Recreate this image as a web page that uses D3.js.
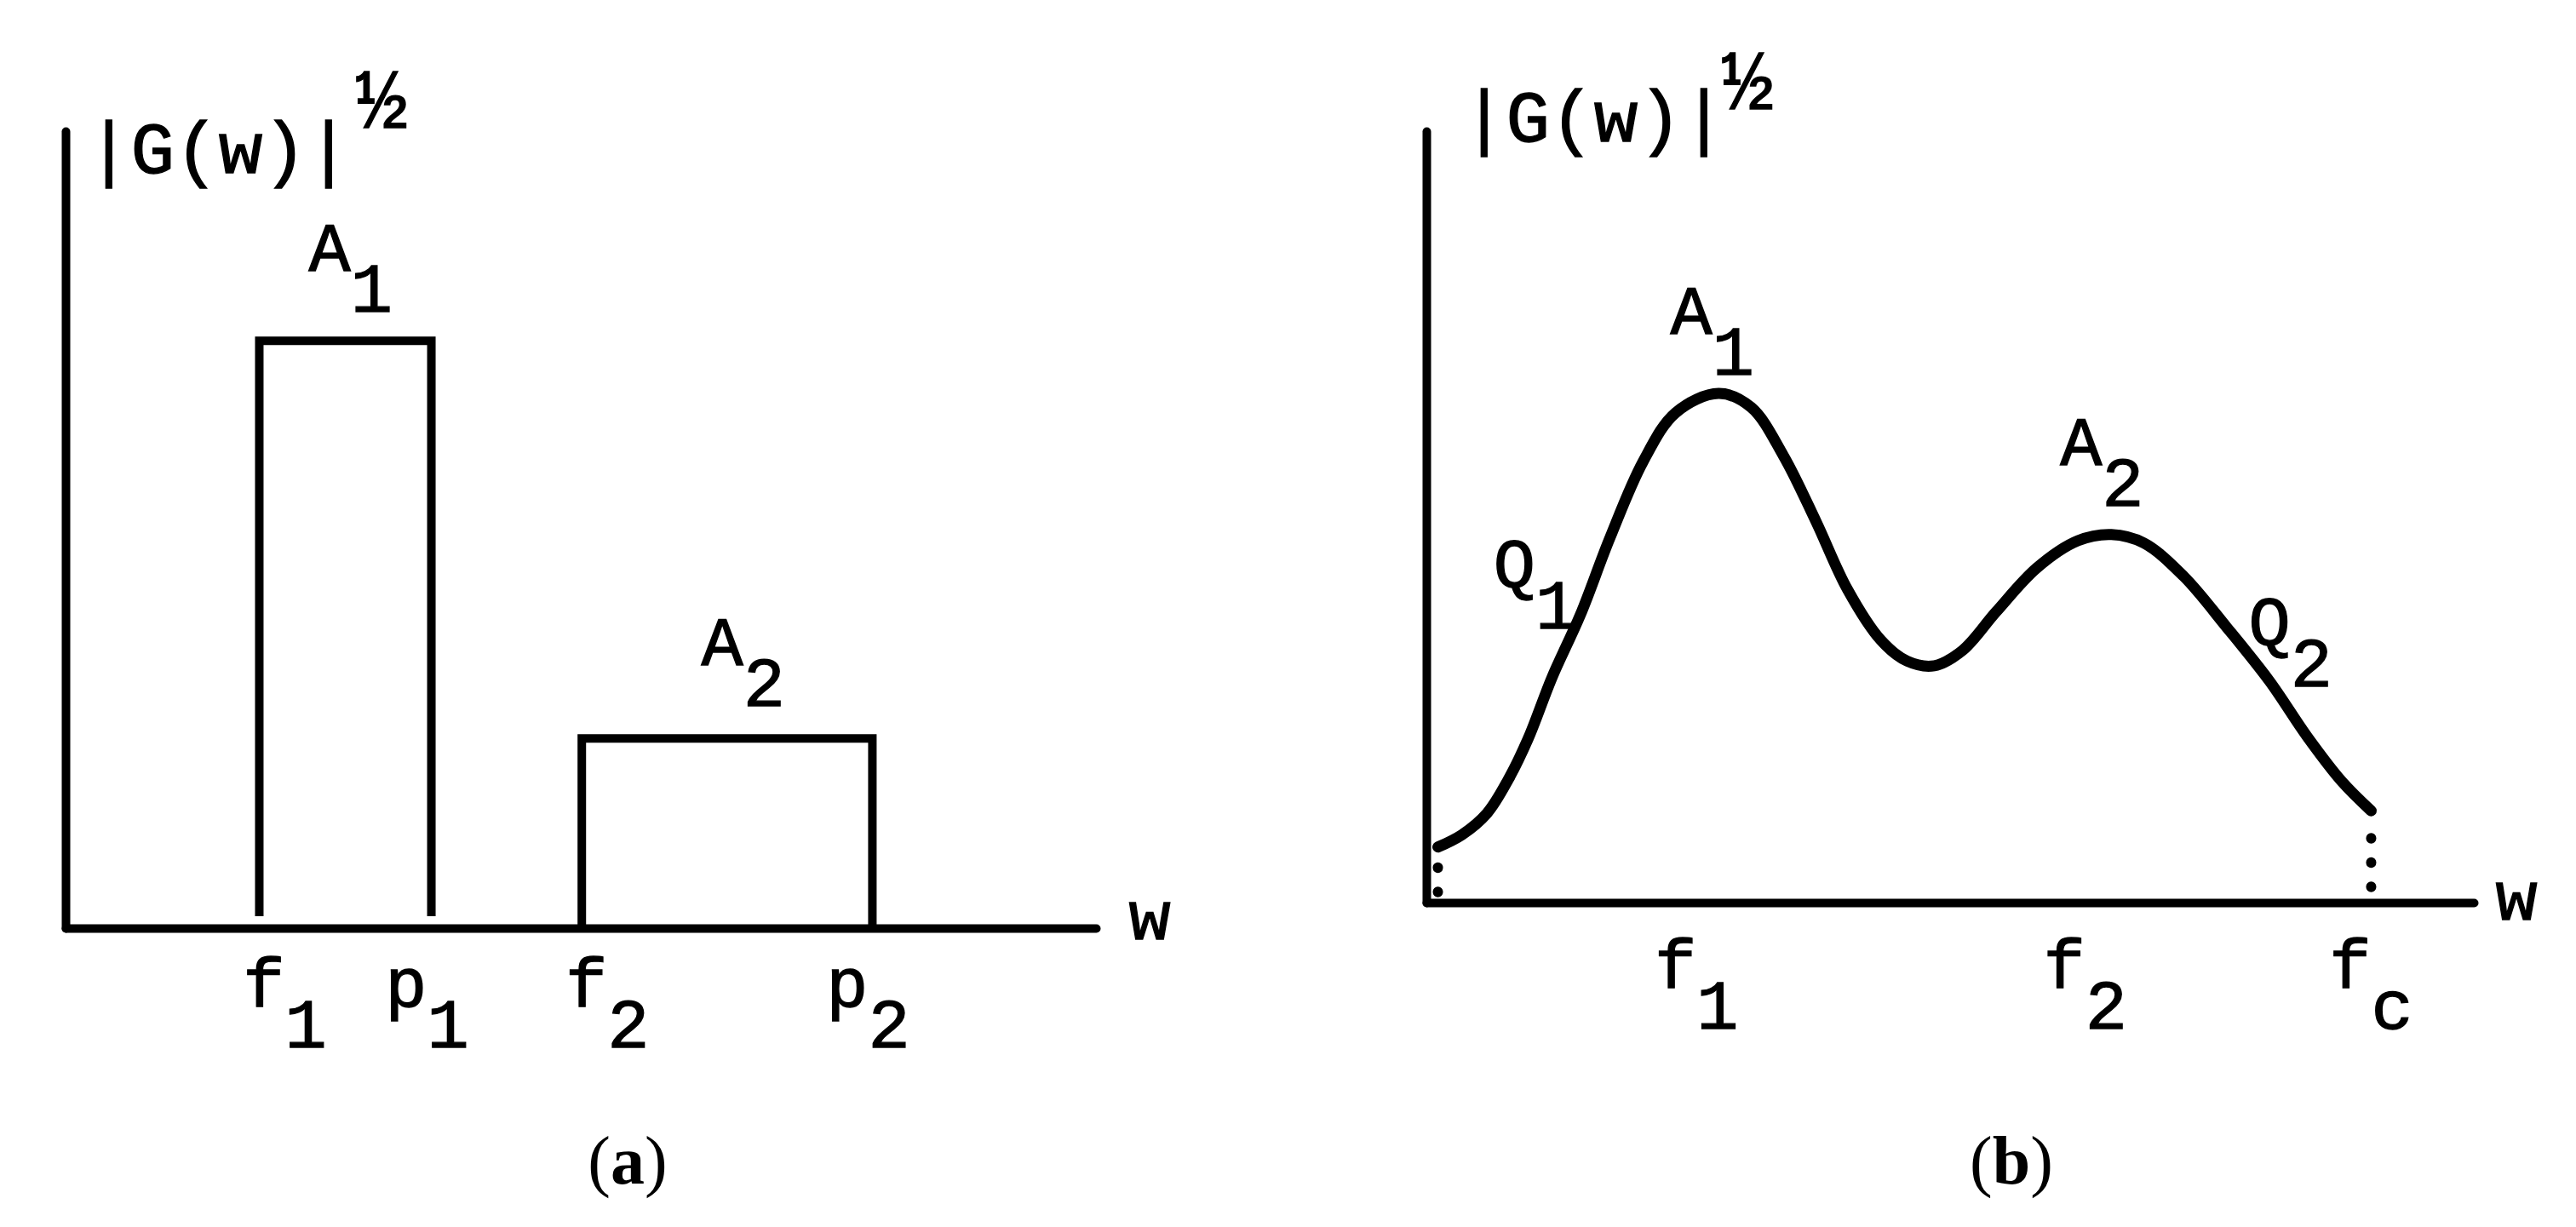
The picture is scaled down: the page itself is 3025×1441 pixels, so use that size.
<!DOCTYPE html>
<html>
<head>
<meta charset="utf-8">
<script src="https://cdn.jsdelivr.net/npm/d3@7"></script>
<style>
  body { margin: 0; background: #fff; }
  svg text { font-family: "Liberation Mono", "DejaVu Sans Mono", monospace; fill: #000; stroke: #000; stroke-width: 1.3px; }
  svg text.caption { font-family: "Liberation Serif", "DejaVu Serif", serif; stroke: none; }
</style>
</head>
<body>
<svg id="chart"></svg>
<script>
// panel (a): two flat bands, w and |G| in arbitrary units (0..100)
const bandIds = ["1", "2"];
const bandStart = [18.8, 50.1]; // f1, f2
const bandEnd = [35.5, 78.3]; // p1, p2
const bandLevel = [73.7, 23.8]; // A1, A2
const bandFoot = [1.5, 0]; // sides of the first band stop just short of the axis

// panel (b): smooth spectrum
const curveW = [1.1, 3.4, 5.8, 7.8, 9.7, 12.0, 14.7, 17.5, 20.7, 23.8, 27.9, 31.0, 34.1, 37.2, 40.2, 43.4,
  45.9, 48.5, 51.2, 54.4, 58.3, 62.2, 65.4, 68.5, 72.3, 76.4, 80.5, 84.1, 87.4, 90.2];
const curveG = [7.2, 8.8, 11.6, 15.9, 21.2, 29.2, 37.3, 47.2, 57.2, 63.5, 66.0, 64.2, 57.9, 49.4, 40.6, 34.0,
  31.3, 30.7, 32.7, 37.7, 43.4, 46.9, 47.7, 46.6, 42.3, 35.7, 28.7, 21.5, 15.7, 11.9];
const curveTickIds = ["1", "2", "c"];
const curveTickW = [25.8, 62.9, 90.2];

// annotations, in data units (w, |G|)
const notesA = [
  { main: "A", sub: "1", w: 23.6, g: 82.5 },
  { main: "A", sub: "2", w: 61.7, g: 33.0 },
];
const notesB = [
  { main: "A", sub: "1", w: 23.3, g: 73.7 },
  { main: "A", sub: "2", w: 60.5, g: 56.7 },
  { main: "Q", sub: "1", w: 6.4, g: 40.8 },
  { main: "Q", sub: "2", w: 78.5, g: 33.3 },
];

class Spectrum {
  static svg;
  static fontSize = 82;
  static subShift = 48;
  static stroke = 10;
  static panelA = { left: 77, right: 1287, top: 154, bottom: 1090, ylab: [102, 203], half: [418, 150], wlab: [1350, 1103], tickY: 1182, caption: 737 };
  static panelB = { left: 1675, right: 2905, top: 154, bottom: 1060, ylab: [1717, 166], half: [2022, 128], wlab: [2955, 1080], tickY: 1160, caption: 2362 };

  static label(g, x, y, main, sub, anchor = "start") {
    let t = g
      .append("text")
      .attr("x", x)
      .attr("y", y)
      .attr("font-size", this.fontSize)
      .attr("text-anchor", anchor);
    t.append("tspan").text(main);
    t.append("tspan").attr("dy", this.subShift).text(sub);
    return t;
  }

  static frame(g, x, y, p, letter) {
    // axes: plain heavy lines, no ticks
    g.append("g")
      .attr("transform", "translate(0," + p.bottom + ")")
      .call(d3.axisBottom(x).tickValues([]).tickSizeOuter(0));
    g.append("g")
      .attr("transform", "translate(" + p.left + ",0)")
      .call(d3.axisLeft(y).tickValues([]).tickSizeOuter(0));
    g.selectAll(".domain")
      .attr("stroke", "#000")
      .attr("stroke-width", this.stroke)
      .attr("stroke-linecap", "round");

    g.append("text")
      .attr("x", p.ylab[0])
      .attr("y", p.ylab[1])
      .attr("font-size", 86)
      .text("|G(w)|");
    g.append("text")
      .attr("x", p.half[0])
      .attr("y", p.half[1])
      .attr("font-size", 100)
      .text("\u00BD");
    g.append("text")
      .attr("x", p.wlab[0])
      .attr("y", p.wlab[1])
      .attr("font-size", this.fontSize)
      .attr("text-anchor", "middle")
      .text("w");

    let cap = g
      .append("text")
      .attr("class", "caption")
      .attr("x", p.caption)
      .attr("y", 1390)
      .attr("font-size", 80)
      .attr("text-anchor", "middle");
    cap.append("tspan").text("(");
    cap.append("tspan").attr("font-weight", "bold").text(letter);
    cap.append("tspan").text(")");
  }

  static createPanelA() {
    let p = this.panelA;
    let x = d3.scaleLinear().domain([0, 100]).range([p.left, p.right]);
    let y = d3.scaleLinear().domain([0, 100]).range([p.bottom, p.top]);
    let g = this.svg.append("g").attr("class", "panel-a");

    this.frame(g, x, y, p, "a");

    let bands = bandIds.map((id, i) => ({ id: id, start: bandStart[i], end: bandEnd[i], level: bandLevel[i], foot: bandFoot[i] }));

    // open rectangles: left side, top, right side
    g.selectAll(".band")
      .data(bands)
      .enter()
      .append("path")
      .attr("class", "band")
      .attr("fill", "none")
      .attr("stroke", "#000")
      .attr("stroke-width", this.stroke)
      .attr("stroke-linejoin", "miter")
      .attr("d", (d) =>
        d3.line()([
          [x(d.start), y(d.foot)],
          [x(d.start), y(d.level)],
          [x(d.end), y(d.level)],
          [x(d.end), y(d.foot)],
        ])
      );

    // f_i / p_i under the axis
    bands.forEach((d) => {
      this.label(g, x(d.start) + 30, p.tickY, "f", d.id, "middle");
      this.label(g, x(d.end) - 5, p.tickY, "p", d.id, "middle");
    });

    notesA.forEach((n) => this.label(g, x(n.w), y(n.g), n.main, n.sub));
  }

  static createPanelB() {
    let p = this.panelB;
    let x = d3.scaleLinear().domain([0, 100]).range([p.left, p.right]);
    let y = d3.scaleLinear().domain([0, 100]).range([p.bottom, p.top]);
    let g = this.svg.append("g").attr("class", "panel-b");

    this.frame(g, x, y, p, "b");

    let pts = curveW.map((w, i) => [w, curveG[i]]);
    g.append("path")
      .datum(pts)
      .attr("fill", "none")
      .attr("stroke", "#000")
      .attr("stroke-width", 13)
      .attr("stroke-linecap", "round")
      .attr("d", d3.line().x((d) => x(d[0])).y((d) => y(d[1])).curve(d3.curveCatmullRom.alpha(0.5)));

    // dotted drops from both ends of the curve to the axis
    let ends = [
      { pt: pts[0], gap: 24 },
      { pt: pts[pts.length - 1], gap: 32 },
    ];
    g.selectAll(".drop")
      .data(ends)
      .enter()
      .append("line")
      .attr("class", "drop")
      .attr("x1", (d) => x(d.pt[0]))
      .attr("x2", (d) => x(d.pt[0]))
      .attr("y1", (d) => y(d.pt[1]) + d.gap)
      .attr("y2", y(0) - 9)
      .attr("stroke", "#000")
      .attr("stroke-width", 12)
      .attr("stroke-linecap", "round")
      .attr("stroke-dasharray", "0.5,28");

    curveTickIds.forEach((id, i) => this.label(g, x(curveTickW[i]), p.tickY, "f", id, "middle"));

    notesB.forEach((n) => this.label(g, x(n.w), y(n.g), n.main, n.sub));
  }

  static createChart() {
    this.svg = d3.select("#chart").attr("width", 3025).attr("height", 1441);
    this.svg.append("rect").attr("width", 3025).attr("height", 1441).attr("fill", "#fff");
    this.createPanelA();
    this.createPanelB();
  }
}

Spectrum.createChart();
</script>
</body>
</html>
